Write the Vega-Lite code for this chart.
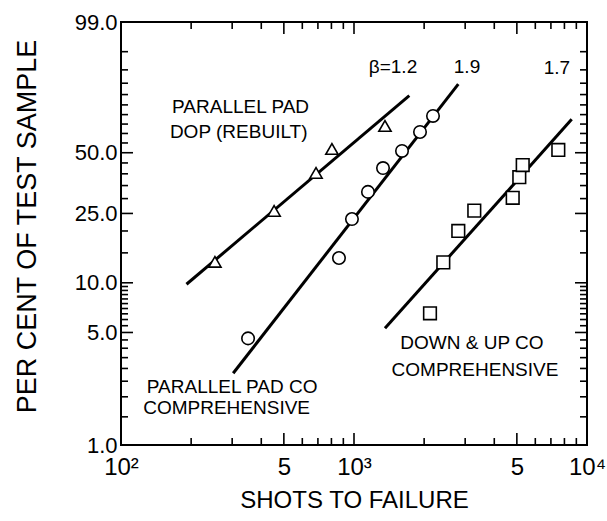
{
  "$schema": "https://vega.github.io/schema/vega-lite/v6.json",
  "width": 466,
  "height": 423,
  "autosize": {"type": "none"},
  "padding": {"left": 121, "top": 22, "right": 20, "bottom": 76},
  "background": "white",
  "config": {
    "font": "Liberation Sans",
    "view": {"stroke": "black", "strokeWidth": 2},
    "axis": {"domain": false, "ticks": false, "grid": false, "labelColor": "black", "titleColor": "black", "titleFontWeight": "normal"}
  },
  "datasets": {
    "lines": [
      {"series": "DOP", "shots": 191, "pct": 9.8},
      {"series": "DOP", "shots": 1727, "pct": 79.5},
      {"series": "PPCO", "shots": 303, "pct": 2.8},
      {"series": "PPCO", "shots": 2803, "pct": 84.6},
      {"series": "DUCO", "shots": 1358, "pct": 5.3},
      {"series": "DUCO", "shots": 8597, "pct": 67.5}
    ],
    "points": [
      {"series": "DOP", "shots": 253, "pct": 13.3},
      {"series": "DOP", "shots": 454, "pct": 25.8},
      {"series": "DOP", "shots": 687, "pct": 40.4},
      {"series": "DOP", "shots": 804, "pct": 51.9},
      {"series": "DOP", "shots": 1358, "pct": 64.0},
      {"series": "PPCO", "shots": 351, "pct": 4.6},
      {"series": "PPCO", "shots": 862, "pct": 14.0},
      {"series": "PPCO", "shots": 980, "pct": 23.3},
      {"series": "PPCO", "shots": 1148, "pct": 32.5},
      {"series": "PPCO", "shots": 1332, "pct": 42.6},
      {"series": "PPCO", "shots": 1607, "pct": 50.9},
      {"series": "PPCO", "shots": 1920, "pct": 60.8},
      {"series": "PPCO", "shots": 2183, "pct": 69.3},
      {"series": "DUCO", "shots": 2119, "pct": 6.55},
      {"series": "DUCO", "shots": 2417, "pct": 13.2},
      {"series": "DUCO", "shots": 2803, "pct": 20.0},
      {"series": "DUCO", "shots": 3283, "pct": 25.9},
      {"series": "DUCO", "shots": 4799, "pct": 30.3},
      {"series": "DUCO", "shots": 5122, "pct": 38.5},
      {"series": "DUCO", "shots": 5298, "pct": 44.0},
      {"series": "DUCO", "shots": 7531, "pct": 51.4}
    ],
    "notes": [
      {"label": "β=1.2", "shots": 1470, "pct": 90.9},
      {"label": "1.9", "shots": 3055, "pct": 90.9},
      {"label": "1.7", "shots": 7433, "pct": 90.6},
      {"label": "PARALLEL PAD", "shots": 326, "pct": 73.9},
      {"label": "DOP (REBUILT)", "shots": 320, "pct": 60.8},
      {"label": "PARALLEL PAD CO", "shots": 300, "pct": 2.3},
      {"label": "COMPREHENSIVE", "shots": 284, "pct": 1.7},
      {"label": "DOWN & UP CO", "shots": 3209, "pct": 4.31},
      {"label": "COMPREHENSIVE", "shots": 3306, "pct": 2.93}
    ],
    "yticks": [
      {"pct": 1, "kind": "major"}, {"pct": 1.5, "kind": "minor"}, {"pct": 2, "kind": "minor"}, {"pct": 2.5, "kind": "minor"},
      {"pct": 3, "kind": "minor"}, {"pct": 3.5, "kind": "minor"}, {"pct": 4, "kind": "minor"}, {"pct": 4.5, "kind": "minor"},
      {"pct": 5, "kind": "major"}, {"pct": 5.5, "kind": "minor"}, {"pct": 6, "kind": "minor"}, {"pct": 6.5, "kind": "minor"},
      {"pct": 7, "kind": "minor"}, {"pct": 7.5, "kind": "minor"}, {"pct": 8, "kind": "minor"}, {"pct": 8.5, "kind": "minor"},
      {"pct": 9, "kind": "minor"}, {"pct": 9.5, "kind": "minor"}, {"pct": 10, "kind": "major"}, {"pct": 15, "kind": "minor"},
      {"pct": 20, "kind": "minor"}, {"pct": 25, "kind": "major"}, {"pct": 30, "kind": "minor"}, {"pct": 35, "kind": "minor"},
      {"pct": 40, "kind": "minor"}, {"pct": 45, "kind": "minor"}, {"pct": 50, "kind": "major"}, {"pct": 55, "kind": "minor"},
      {"pct": 60, "kind": "minor"}, {"pct": 65, "kind": "minor"}, {"pct": 70, "kind": "minor"}, {"pct": 75, "kind": "minor"},
      {"pct": 80, "kind": "minor"}, {"pct": 85, "kind": "minor"}, {"pct": 90, "kind": "minor"}, {"pct": 95, "kind": "minor"},
      {"pct": 99, "kind": "major"}
    ],
    "xticks": [
      {"shots": 100, "kind": "major"}, {"shots": 200, "kind": "minor"}, {"shots": 300, "kind": "minor"}, {"shots": 400, "kind": "minor"},
      {"shots": 500, "kind": "major"}, {"shots": 600, "kind": "minor"}, {"shots": 700, "kind": "minor"}, {"shots": 800, "kind": "minor"},
      {"shots": 900, "kind": "minor"}, {"shots": 1000, "kind": "major"}, {"shots": 2000, "kind": "minor"}, {"shots": 3000, "kind": "minor"},
      {"shots": 4000, "kind": "minor"}, {"shots": 5000, "kind": "major"}, {"shots": 6000, "kind": "minor"}, {"shots": 7000, "kind": "minor"},
      {"shots": 8000, "kind": "minor"}, {"shots": 9000, "kind": "minor"}, {"shots": 10000, "kind": "major"}
    ]
  },
  "layer": [
    {
      "data": {"name": "lines"},
      "transform": [{"calculate": "log(-log(1 - datum.pct/100))", "as": "w"}],
      "mark": {"type": "line", "stroke": "black", "strokeWidth": 3, "strokeCap": "butt"},
      "encoding": {
        "x": {
          "field": "shots", "type": "quantitative",
          "scale": {"type": "log", "domain": [100, 10000], "nice": false},
          "axis": {
            "orient": "bottom",
            "title": "SHOTS TO FAILURE",
            "titleFontSize": 24,
            "titlePadding": 9,
            "values": [100, 500, 1000, 5000, 10000],
            "labelExpr": "datum.value == 100 ? '10²' : datum.value == 1000 ? '10³' : datum.value == 10000 ? '10⁴' : '5'",
            "labelFontSize": 24,
            "labelFlush": false,
            "labelOverlap": false,
            "labelPadding": 10
          }
        },
        "y": {
          "field": "w", "type": "quantitative",
          "scale": {"domain": [-4.60015, 1.52718], "nice": false, "zero": false},
          "axis": {
            "orient": "left",
            "title": "PER CENT OF TEST SAMPLE",
            "titleFontSize": 27,
            "titlePadding": 33,
            "titleY": 204,
            "values": [-4.60015, -2.9702, -2.25037, -1.2459, -0.36651, 1.52718],
            "labelExpr": "format(100 * (1 - exp(-exp(datum.value))), '.1f')",
            "labelFontSize": 22,
            "labelFlush": false,
            "labelOverlap": false,
            "labelPadding": 4
          }
        },
        "detail": {"field": "series"}
      }
    },
    {
      "data": {"name": "points"},
      "transform": [{"calculate": "log(-log(1 - datum.pct/100))", "as": "w"}],
      "mark": {"type": "point", "filled": false, "stroke": "black", "strokeWidth": 1.6, "opacity": 1, "fill": "white"},
      "encoding": {
        "x": {"field": "shots", "type": "quantitative", "scale": {"type": "log", "domain": [100, 10000], "nice": false}, "axis": null},
        "y": {"field": "w", "type": "quantitative", "scale": {"domain": [-4.60015, 1.52718], "nice": false, "zero": false}, "axis": null},
        "shape": {
          "field": "series", "type": "nominal",
          "scale": {"domain": ["DOP", "PPCO", "DUCO"], "range": ["triangle-up", "circle", "square"]},
          "legend": null
        },
        "size": {
          "field": "series", "type": "nominal",
          "scale": {"domain": ["DOP", "PPCO", "DUCO"], "range": [150, 160, 120]},
          "legend": null
        }
      }
    },
    {
      "data": {"name": "notes"},
      "transform": [{"calculate": "log(-log(1 - datum.pct/100))", "as": "w"}],
      "mark": {"type": "text", "fontSize": 19, "align": "center", "baseline": "middle", "color": "black"},
      "encoding": {
        "x": {"field": "shots", "type": "quantitative", "scale": {"type": "log", "domain": [100, 10000], "nice": false}, "axis": null},
        "y": {"field": "w", "type": "quantitative", "scale": {"domain": [-4.60015, 1.52718], "nice": false, "zero": false}, "axis": null},
        "text": {"field": "label"}
      }
    },
    {
      "data": {"name": "yticks"},
      "transform": [{"calculate": "log(-log(1 - datum.pct/100))", "as": "w"}],
      "mark": {"type": "tick", "orient": "horizontal", "thickness": 1.6, "color": "black", "opacity": 1, "clip": true},
      "encoding": {
        "x": {"datum": 100, "type": "quantitative", "scale": {"type": "log", "domain": [100, 10000], "nice": false}, "axis": null},
        "y": {"field": "w", "type": "quantitative", "scale": {"domain": [-4.60015, 1.52718], "nice": false, "zero": false}, "axis": null},
        "size": {"field": "kind", "type": "nominal", "scale": {"domain": ["major", "minor"], "range": [24, 14]}, "legend": null}
      }
    },
    {
      "data": {"name": "yticks"},
      "transform": [{"calculate": "log(-log(1 - datum.pct/100))", "as": "w"}],
      "mark": {"type": "tick", "orient": "horizontal", "thickness": 1.6, "color": "black", "opacity": 1, "clip": true},
      "encoding": {
        "x": {"datum": 10000, "type": "quantitative", "scale": {"type": "log", "domain": [100, 10000], "nice": false}, "axis": null},
        "y": {"field": "w", "type": "quantitative", "scale": {"domain": [-4.60015, 1.52718], "nice": false, "zero": false}, "axis": null},
        "size": {"field": "kind", "type": "nominal", "scale": {"domain": ["major", "minor"], "range": [24, 14]}, "legend": null}
      }
    },
    {
      "data": {"name": "xticks"},
      "mark": {"type": "tick", "orient": "vertical", "thickness": 1.6, "color": "black", "opacity": 1, "clip": true},
      "encoding": {
        "x": {"field": "shots", "type": "quantitative", "scale": {"type": "log", "domain": [100, 10000], "nice": false}, "axis": null},
        "y": {"datum": -4.60015, "type": "quantitative", "scale": {"domain": [-4.60015, 1.52718], "nice": false, "zero": false}, "axis": null},
        "size": {"field": "kind", "type": "nominal", "scale": {"domain": ["major", "minor"], "range": [24, 14]}, "legend": null}
      }
    },
    {
      "data": {"name": "xticks"},
      "mark": {"type": "tick", "orient": "vertical", "thickness": 1.6, "color": "black", "opacity": 1, "clip": true},
      "encoding": {
        "x": {"field": "shots", "type": "quantitative", "scale": {"type": "log", "domain": [100, 10000], "nice": false}, "axis": null},
        "y": {"datum": 1.52718, "type": "quantitative", "scale": {"domain": [-4.60015, 1.52718], "nice": false, "zero": false}, "axis": null},
        "size": {"field": "kind", "type": "nominal", "scale": {"domain": ["major", "minor"], "range": [24, 14]}, "legend": null}
      }
    }
  ],
  "resolve": {"axis": {"x": "independent", "y": "independent"}, "scale": {"size": "independent"}}
}
